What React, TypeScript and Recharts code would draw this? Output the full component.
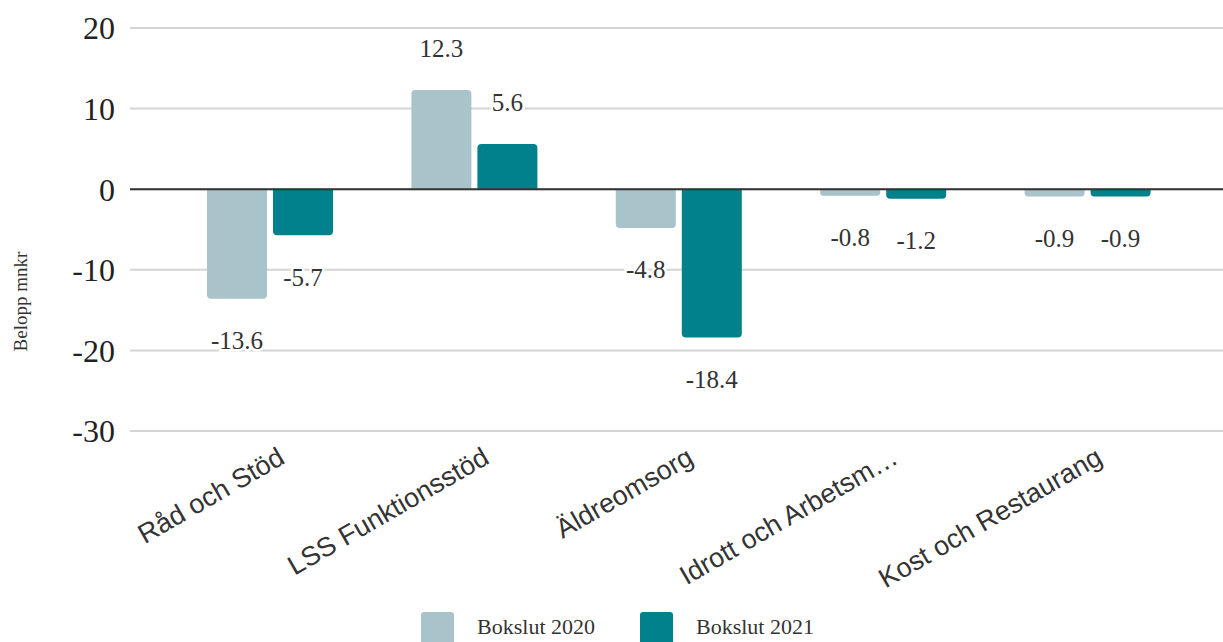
import { BarChart, Bar, XAxis, YAxis, CartesianGrid, ReferenceLine, LabelList, Legend } from 'recharts'

const categories = ['Råd och Stöd', 'LSS Funktionsstöd', 'Äldreomsorg', 'Idrott och Arbetsmarknad', 'Kost och Restaurang']
const bokslut2020 = [-13.6, 12.3, -4.8, -0.8, -0.9]
const bokslut2021 = [-5.7, 5.6, -18.4, -1.2, -0.9]
const yTicks = [20, 10, 0, -10, -20, -30]

const seriesNames = ['Bokslut 2020', 'Bokslut 2021']
const colors = ['#a8c3c9', '#00818b']

const data = categories.map((name, i) => ({
  name,
  b2020: bokslut2020[i],
  b2021: bokslut2021[i],
}))

const serif = '"Liberation Serif", "Times New Roman", serif'
const sans = '"Liberation Sans", Arial, sans-serif'

function shorten(label: string) {
  return label.length > 20 ? label.slice(0, 18) + '…' : label
}

function CategoryTick({ x, y, payload }: any) {
  return (
    <g transform={`translate(${x + 6},${y + 6})`}>
      <text
        transform="rotate(-30)"
        textAnchor="end"
        dy="0.75em"
        fontFamily={sans}
        fontSize={27}
        fill="#333"
      >
        {shorten(payload.value)}
      </text>
    </g>
  )
}

function ValueLabel({ x, y, width, height, value }: any) {
  const top = Math.min(y, y + height)
  const bottom = Math.max(y, y + height)
  const cy = value >= 0 ? top - 42 : bottom + 42
  return (
    <text
      x={x + width / 2}
      y={cy + 8.5}
      textAnchor="middle"
      fontFamily={serif}
      fontSize={25}
      fill="#333"
      stroke="#fff"
      strokeWidth={5}
      paintOrder="stroke"
    >
      {value}
    </text>
  )
}

function AxisTitle({ viewBox }: any) {
  const cx = 20
  const cy = viewBox.y + viewBox.height / 2 + 72
  return (
    <text
      x={cx}
      y={cy}
      transform={`rotate(-90, ${cx}, ${cy})`}
      textAnchor="middle"
      dominantBaseline="central"
      fontFamily={serif}
      fontSize={19}
      fill="#333"
    >
      Belopp mnkr
    </text>
  )
}

function LegendBox() {
  return (
    <div style={{ height: 45, display: 'flex', justifyContent: 'center', paddingTop: 15, paddingLeft: 12, boxSizing: 'border-box' }}>
      {seriesNames.map((s, i) => (
        <div key={s} style={{ display: 'flex', alignItems: 'flex-start', marginRight: i === 0 ? 45 : 0 }}>
          <div style={{ width: 33, height: 33, background: colors[i], borderRadius: 3, marginRight: 23 }} />
          <span style={{ fontFamily: serif, fontSize: 22, color: '#333', lineHeight: '30px' }}>{s}</span>
        </div>
      ))}
    </div>
  )
}

export default function App() {
  return (
    <div style={{ width: 1223, height: 642, overflow: 'hidden', background: '#fff' }}>
      <style>{'body{margin:0}'}</style>
      <BarChart width={1223} height={642} data={data} margin={{ top: 28, right: 0, left: 0, bottom: 0 }} barSize={60} barGap={6}>
        <CartesianGrid vertical={false} stroke="#d4d4d4" strokeWidth={2} />
        <XAxis
          dataKey="name"
          interval={0}
          height={166}
          padding={{ left: 38, right: 33 }}
          tickLine={false}
          axisLine={false}
          tick={<CategoryTick />}
        />
        <YAxis
          domain={[-30, 20]}
          ticks={yTicks}
          width={130}
          tickLine={false}
          axisLine={false}
          tickSize={0}
          tickMargin={15}
          tick={{ fontFamily: serif, fontSize: 32, fill: '#222' }}
          label={<AxisTitle />}
        />
        <ReferenceLine y={0} stroke="#333" strokeWidth={2} />
        <Legend verticalAlign="bottom" content={<LegendBox />} />
        <Bar dataKey="b2020" name={seriesNames[0]} fill={colors[0]} radius={[4, 4, 0, 0]} isAnimationActive={false}>
          <LabelList dataKey="b2020" content={<ValueLabel />} />
        </Bar>
        <Bar dataKey="b2021" name={seriesNames[1]} fill={colors[1]} radius={[4, 4, 0, 0]} isAnimationActive={false}>
          <LabelList dataKey="b2021" content={<ValueLabel />} />
        </Bar>
      </BarChart>
    </div>
  )
}
